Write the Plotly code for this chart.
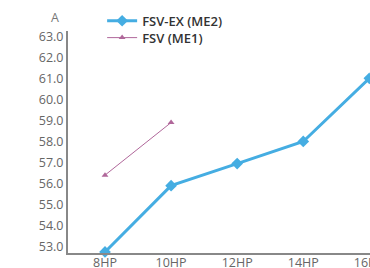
import plotly.graph_objects as go

categories = ["8HP", "10HP", "12HP", "14HP", "16HP"]
fsv_ex_me2 = [52.75, 55.9, 56.95, 58.0, 61.0]
fsv_me1_cats = ["8HP", "10HP"]
fsv_me1 = [56.4, 58.9]
y_ticks = [53, 54, 55, 56, 57, 58, 59, 60, 61, 62, 63]
unit_label = "A"

idx = {c: i for i, c in enumerate(categories)}

fig = go.Figure()
fig.add_trace(go.Scatter(
    x=[idx[c] for c in categories], y=fsv_ex_me2, name="FSV-EX (ME2)",
    mode="lines+markers",
    line=dict(color="#45ADE2", width=3),
    marker=dict(symbol="diamond", size=9, color="#45ADE2"),
    legend="legend", cliponaxis=False,
))
fig.add_trace(go.Scatter(
    x=[idx[c] for c in fsv_me1_cats], y=fsv_me1, name="FSV (ME1)",
    mode="lines+markers",
    line=dict(color="#B0679A", width=1),
    marker=dict(symbol="triangle-up", size=6, color="#B0679A"),
    legend="legend2", cliponaxis=False,
))

legend_font = dict(size=13, color="#333333", family="Open Sans", weight=600)

fig.update_layout(
    width=370, height=268,
    margin=dict(l=68, r=0, t=31, b=15, autoexpand=False),
    paper_bgcolor="white", plot_bgcolor="white",
    font=dict(family="Open Sans", size=12.5, color="#666666"),
    showlegend=True,
    legend=dict(x=0.113, y=1.046, xanchor="left", yanchor="middle",
                font=legend_font, bgcolor="rgba(0,0,0,0)"),
    legend2=dict(x=0.113, y=0.97, xanchor="left", yanchor="middle",
                 font=legend_font, bgcolor="rgba(0,0,0,0)"),
    xaxis=dict(
        range=[-0.56, 4.01], tickmode="array",
        tickvals=list(range(len(categories))), ticktext=categories,
        showgrid=False, zeroline=False, showline=True,
        linecolor="#888888", linewidth=2, ticks="", ticklen=0,
        tickfont=dict(size=12.5, color="#666666"), automargin=False,
        ticklabelstandoff=-3, ticklabeloverflow="allow",
    ),
    yaxis=dict(
        range=[52.7, 63.25], tickmode="array",
        tickvals=y_ticks, ticktext=[f"{v:.1f}" for v in y_ticks],
        showgrid=False, zeroline=False, showline=True,
        linecolor="#888888", linewidth=2, ticks="", ticklen=0,
        tickfont=dict(size=12.5, color="#666666"), automargin=False,
    ),
    annotations=[dict(
        text=unit_label, xref="paper", yref="paper", x=-0.043, y=1.059,
        xanchor="center", yanchor="middle", showarrow=False,
        font=dict(size=12.5, color="#777777"),
    )],
)

fig.write_html("out.html", config={"displayModeBar": False},
               post_script="document.body.style.margin='0';document.body.style.overflow='hidden';")
